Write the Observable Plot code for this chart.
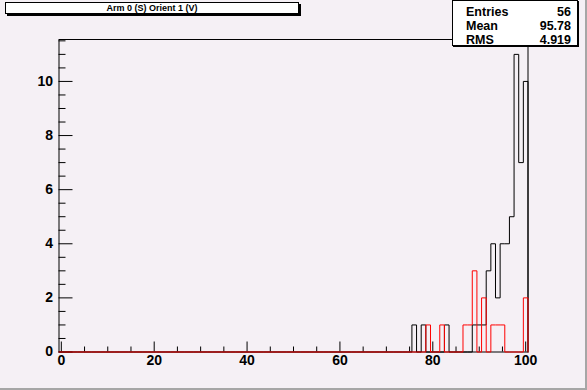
<!DOCTYPE html>
<html>
<head>
<meta charset="utf-8">
<script src="https://cdn.jsdelivr.net/npm/d3@7"></script>
<script src="https://cdn.jsdelivr.net/npm/@observablehq/plot@0.6"></script>
<style>
  html, body { margin: 0; padding: 0; background: #f5f0f5; }
  #canvas { position: relative; width: 587px; height: 390px; background: #f5f0f5; overflow: hidden;
            font-family: "Liberation Sans", Arial, Helvetica, sans-serif; }
  #chart { position: absolute; left: 0; top: 0; }
  #chart svg text { font-size: 14px; font-weight: bold; font-family: "Liberation Sans", Arial, sans-serif; }
  .edgeR { position: absolute; left: 585px; top: 0; width: 2px; height: 390px; background: #a6a6a6; }
  .edgeB { position: absolute; left: 0; top: 388px; width: 587px; height: 2px; background: #a6a6a6; }
  #title { position: absolute; left: 5px; top: 2px; width: 292px; height: 10px; background: #fff;
           border: 1px solid #000; box-shadow: 2px 2px 0 #000; font-weight: bold; font-size: 9px;
           line-height: 10px; text-align: center; }
  #stats { position: absolute; left: 452px; top: 0px; width: 124px; height: 44px; background: #fff;
           border: 1px solid #000; box-shadow: 1px 1px 0 #000; font-weight: bold; font-size: 12.5px; }
  #stats .row { position: absolute; left: 13px; right: 6px; height: 14px; line-height: 14px; }
  #stats .lab { position: absolute; left: 0; }
  #stats .val { position: absolute; right: 0; }
</style>
</head>
<body>
<div id="canvas">
  <div id="chart"></div>
  <div id="title"></div>
  <div id="stats"></div>
  <div class="edgeR"></div>
  <div class="edgeB"></div>
</div>
<script>
// ---- data ----
const titleText = "Arm 0 (S) Orient 1 (V)";
const blackBins   = [76, 78, 83, 89, 90, 91, 92, 93, 94, 95, 96, 97, 98, 99, 100];
const blackCounts = [ 1,  1,  1,  1,  1,  1,  3,  4,  2,  4,  4,  5, 11,  7,  10];
const redBins     = [79, 82, 87, 88, 89, 91, 93, 94, 95, 100];
const redCounts   = [ 1,  1,  1,  1,  3,  2,  1,  1,  1,  2];
const statsLabels = ["Entries", "Mean", "RMS"];
const statsValues = ["56", "95.78", "4.919"];
const xTickLabels = [0, 20, 40, 60, 80, 100];
const yTickLabels = [0, 2, 4, 6, 8, 10];
const nBins = 101;            // bins centred on 0..100
const xMinorStep = 5;
const yMinorStep = 0.5;
const yMax = 11.55;

// ---- build step outlines ----
function outline(bins, counts) {
  const c = new Array(nBins).fill(0);
  bins.forEach((b, i) => { c[b] = counts[i]; });
  const pts = [];
  for (let k = 0; k < nBins; k++) pts.push({x: k - 0.5, y: c[k]});
  pts.push({x: nBins - 0.5, y: c[nBins - 1]});
  pts.push({x: nBins - 0.5, y: 0});
  return pts;
}
const blackPts = outline(blackBins, blackCounts);
const redPts = outline(redBins, redCounts);

const xMajor = xTickLabels;
const xMinor = d3.range(0, 100 + 0.001, xMinorStep).filter(v => !xMajor.includes(v));
const yMajor = yTickLabels;
const yMinor = d3.range(0, yMax, yMinorStep).filter(v => !yMajor.includes(v));

const W = 587, H = 390;
const mL = 58.5, mR = 59.5, mT = 39, mB = 38.5;
const fW = W - mL - mR, fH = H - mT - mB;

const plot = Plot.plot({
  width: W, height: H,
  marginLeft: mL, marginRight: mR, marginTop: mT, marginBottom: mB,
  style: {background: "transparent", fontFamily: "'Liberation Sans', Arial, sans-serif", fontWeight: "bold", fontSize: "14px", color: "#000"},
  x: {domain: [-0.5, nBins - 0.5]},
  y: {domain: [0, yMax]},
  marks: [
    Plot.frame({stroke: "#000", strokeWidth: 1}),
    Plot.tickX(xMajor, {x: d => d, stroke: "#000", insetTop: fH - 10}),
    Plot.tickX(xMinor, {x: d => d, stroke: "#000", insetTop: fH - 5}),
    Plot.tickY(yMajor, {y: d => d, stroke: "#000", insetRight: fW - 14}),
    Plot.tickY(yMinor, {y: d => d, stroke: "#000", insetRight: fW - 7}),
    Plot.axisX({ticks: xTickLabels, tickSize: 0, tickPadding: 3, fontSize: 14, fontWeight: "bold", label: null, tickFormat: d => String(d)}),
    Plot.axisY({ticks: yTickLabels, tickSize: 0, tickPadding: 6, fontSize: 14, fontWeight: "bold", label: null, tickFormat: d => String(d)}),
    Plot.line(blackPts, {x: "x", y: "y", curve: "step-after", stroke: "#000", strokeWidth: 1}),
    Plot.line(redPts, {x: "x", y: "y", curve: "step-after", stroke: "#ff0000", strokeWidth: 1})
  ]
});
document.getElementById("chart").appendChild(plot);

document.getElementById("title").textContent = titleText;
const stats = document.getElementById("stats");
statsLabels.forEach((lab, i) => {
  const row = document.createElement("div");
  row.className = "row";
  row.style.top = (4 + i * 13.75) + "px";
  const a = document.createElement("span"); a.className = "lab"; a.textContent = lab;
  const b = document.createElement("span"); b.className = "val"; b.textContent = statsValues[i];
  row.appendChild(a); row.appendChild(b);
  stats.appendChild(row);
});
</script>
</body>
</html>
